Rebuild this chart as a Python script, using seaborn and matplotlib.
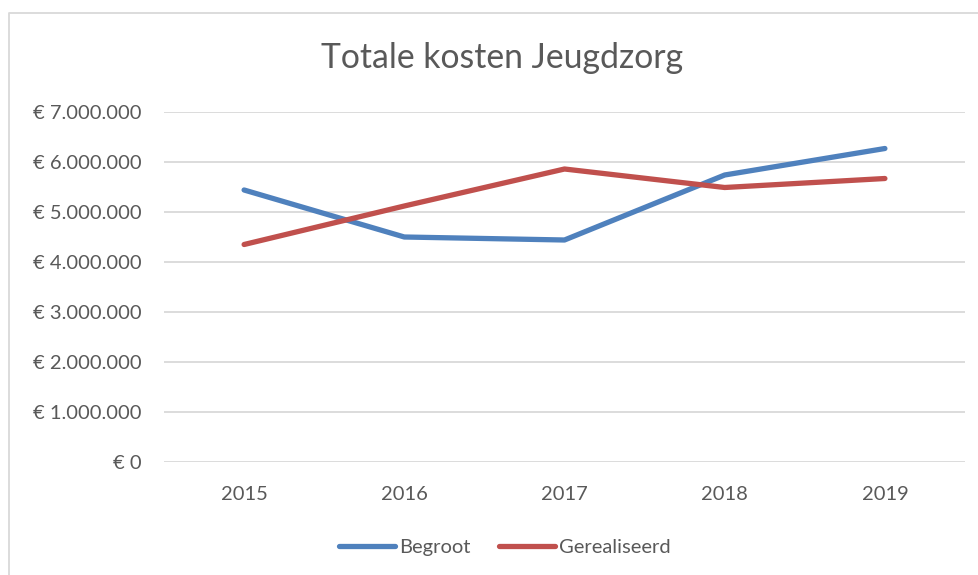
import matplotlib
matplotlib.use("Agg")
import matplotlib.pyplot as plt
import matplotlib.ticker as mticker
from matplotlib.lines import Line2D
import seaborn as sns
import pandas as pd

years = ["2015", "2016", "2017", "2018", "2019"]
begroot = [5440000, 4500000, 4440000, 5740000, 6270000]
gerealiseerd = [4350000, 5120000, 5860000, 5490000, 5670000]
series_names = ["Begroot", "Gerealiseerd"]
colors = ["#4F81BD", "#C0504D"]

df = pd.DataFrame({
    "jaar": years * 2,
    "kosten": begroot + gerealiseerd,
    "serie": [series_names[0]] * len(years) + [series_names[1]] * len(years),
})

sns.set_theme(style="white")
plt.rcParams["font.family"] = ["Lato", "DejaVu Sans"]
text_color = "#595959"
label_size = 14.5

fig = plt.figure(figsize=(9.79, 5.75), dpi=100)
ax = fig.add_axes([164 / 979, 1 - 462 / 575, (965 - 164) / 979, (462 - 112) / 575])

sns.lineplot(data=df, x="jaar", y="kosten", hue="serie", palette=colors,
             linewidth=3.8, ax=ax, legend=False, sort=False)
for ln in ax.lines:
    ln.set_solid_capstyle("round")
    ln.set_solid_joinstyle("round")

ax.set_xlim(-0.5, len(years) - 0.5)
ax.set_ylim(0, 7000000)
ax.yaxis.set_major_locator(mticker.MultipleLocator(1000000))


def euro(v, pos):
    s = f"{int(round(v)):,}".replace(",", ".")
    return f"€ {s}"


ax.yaxis.set_major_formatter(mticker.FuncFormatter(euro))
ax.grid(axis="y", color="#D9D9D9", linewidth=1.3)
ax.set_axisbelow(True)
for s in ax.spines.values():
    s.set_visible(False)
ax.set_xlabel("")
ax.set_ylabel("")
ax.tick_params(axis="both", length=0, labelsize=label_size, colors=text_color)
ax.tick_params(axis="y", pad=16)
ax.tick_params(axis="x", pad=17)

fig.text(502 / 979, 1 - 58 / 575, "Totale kosten Jeugdzorg", ha="center", va="center",
         fontsize=24.3, color=text_color)

# chart area frame
fig.add_artist(Line2D([9 / 979, 9 / 979, 1.0], [0.0, 1 - 13 / 575, 1 - 13 / 575],
                      transform=fig.transFigure, color="#D9D9D9", linewidth=1.3))

handles = [Line2D([0], [0], color=c, linewidth=3.8, solid_capstyle="round") for c in colors]
fig.legend(handles, series_names, loc="center", bbox_to_anchor=(505 / 979, 1 - 547 / 575),
           ncol=2, frameon=False, fontsize=label_size, labelcolor=text_color,
           handlelength=2.8, handletextpad=0.2, columnspacing=1.4)

fig.savefig("out.png", dpi=100, facecolor="white")
